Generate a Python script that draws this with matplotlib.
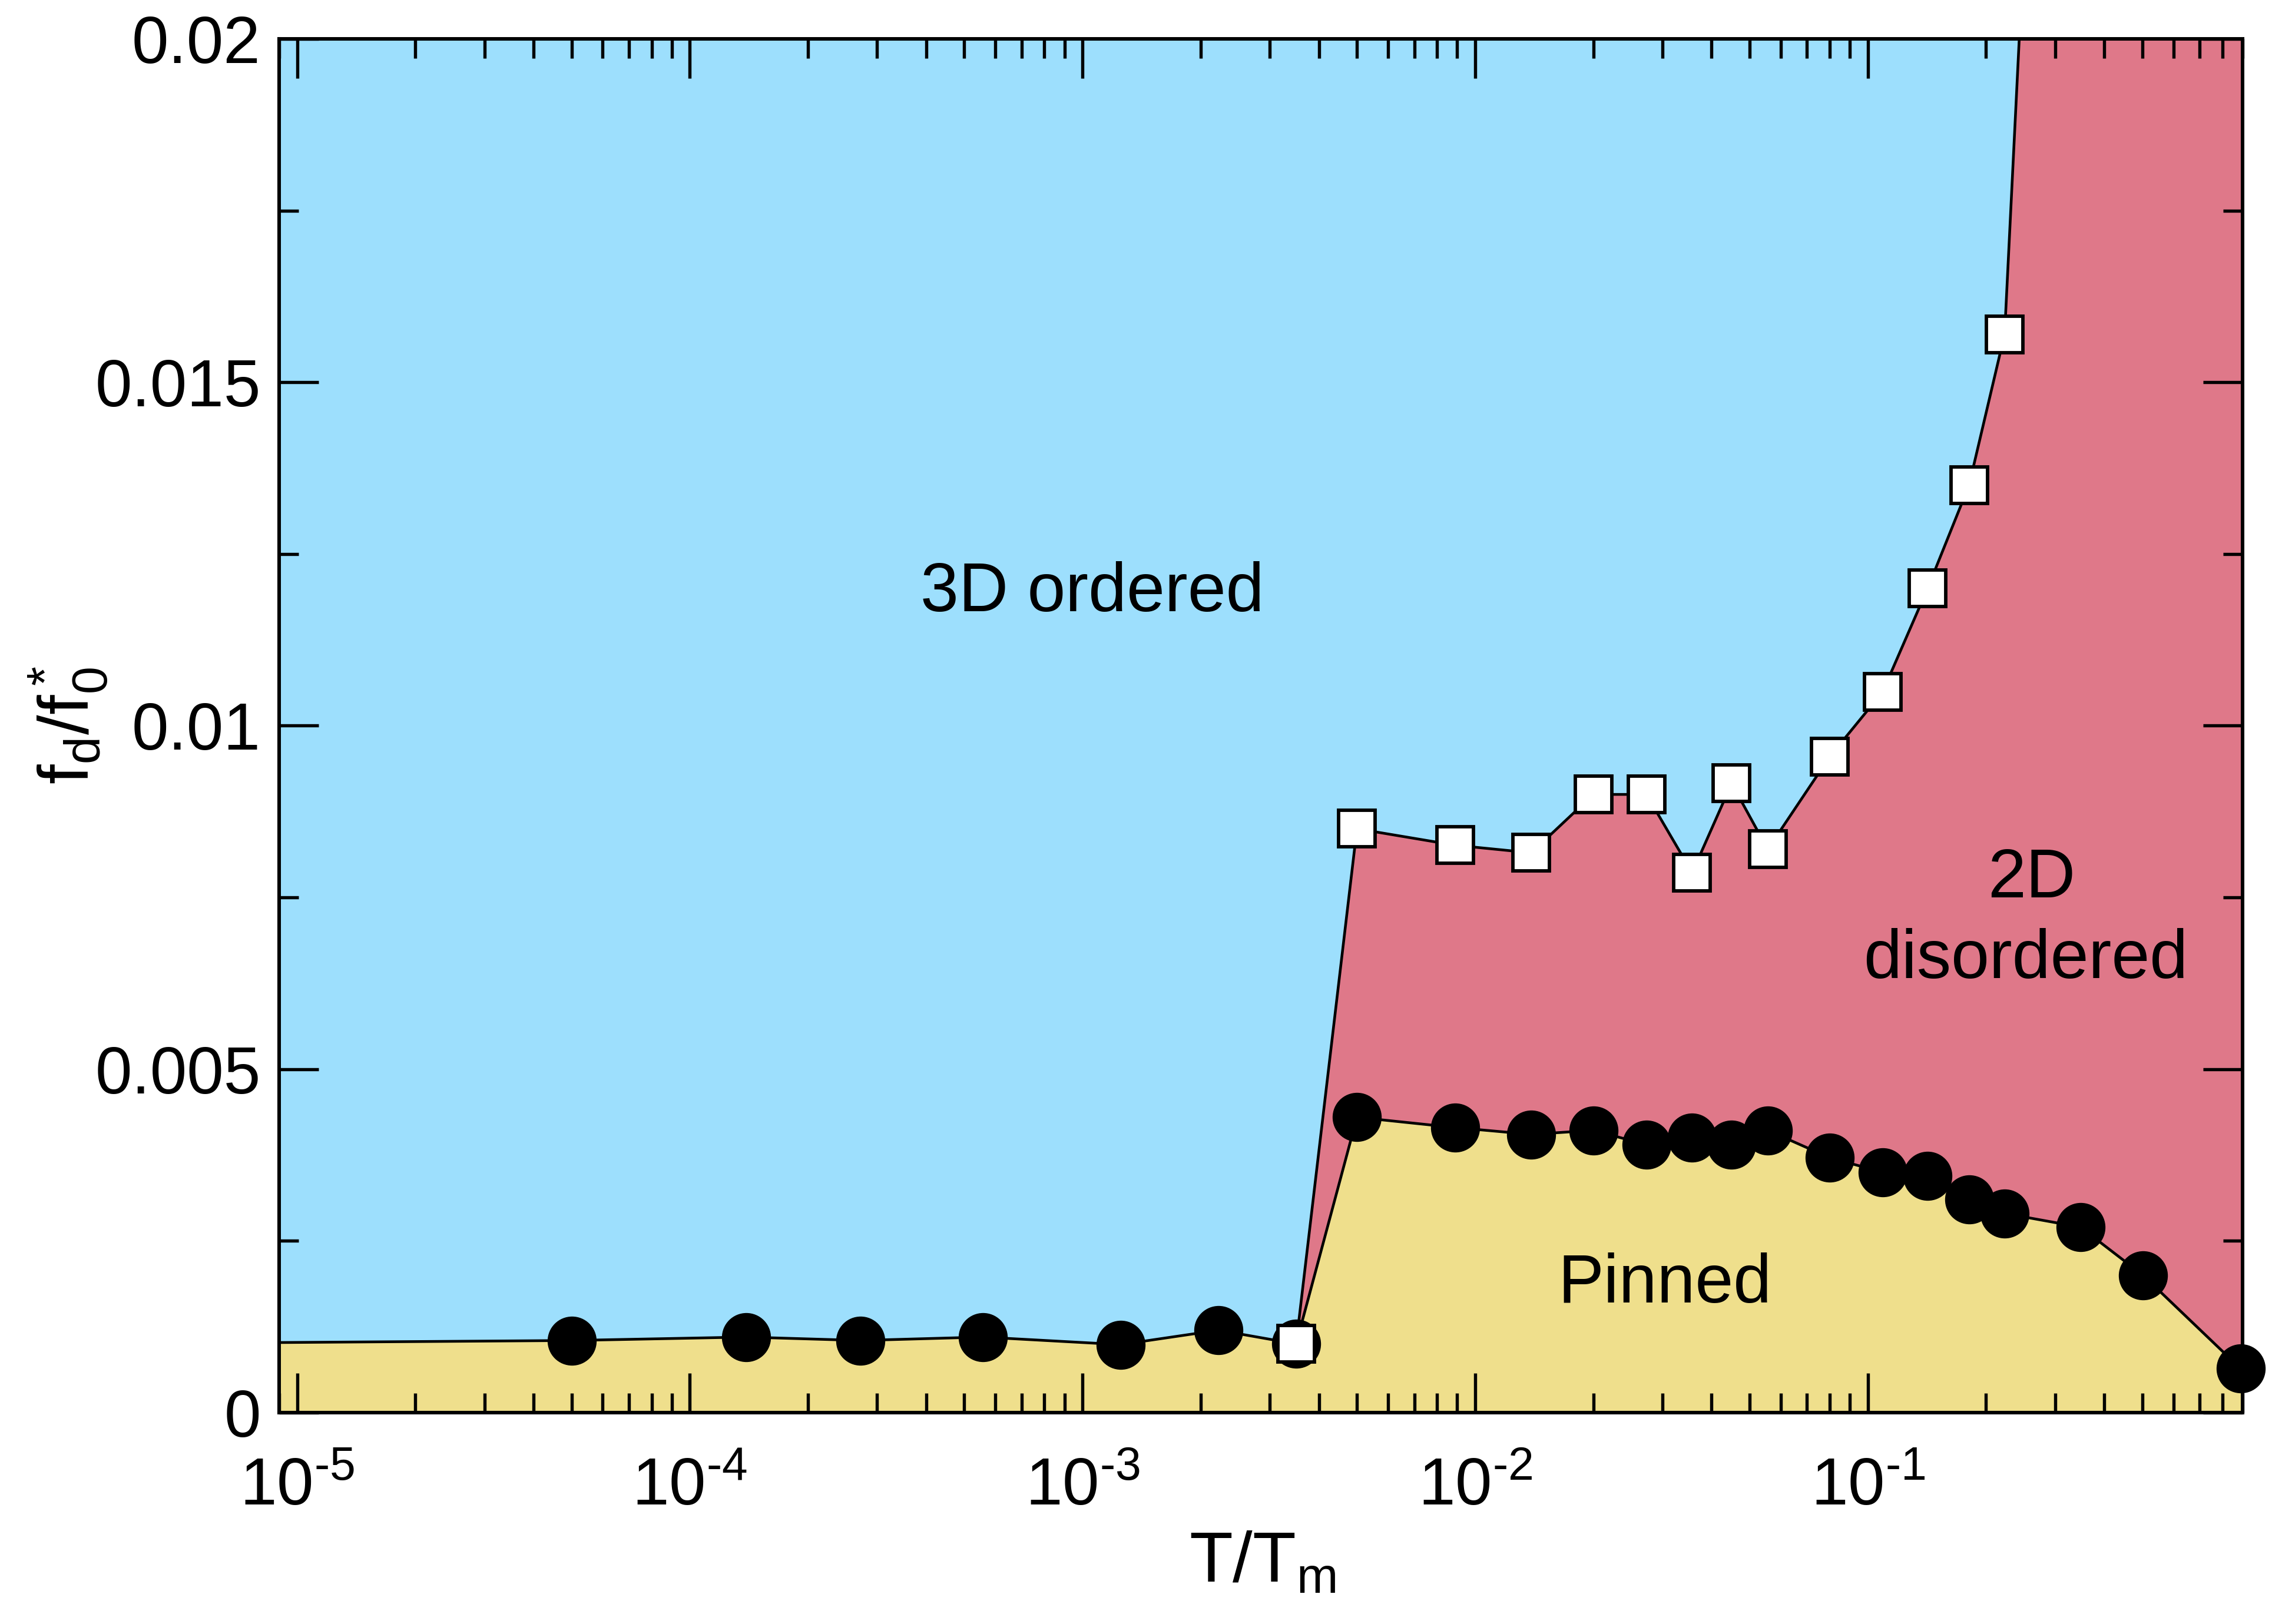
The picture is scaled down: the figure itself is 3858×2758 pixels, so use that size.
import matplotlib
matplotlib.use('Agg')
import matplotlib.pyplot as plt
from matplotlib.ticker import FixedLocator, FixedFormatter, LogLocator, NullFormatter, MultipleLocator
import numpy as np

plt.rcParams['font.family'] = ['Liberation Sans', 'DejaVu Sans']
plt.rcParams['mathtext.fontset'] = 'custom'
plt.rcParams['mathtext.rm'] = 'Liberation Sans'
plt.rcParams['mathtext.it'] = 'Liberation Sans:italic'
plt.rcParams['mathtext.default'] = 'regular'

# ---------------- data ----------------
pinned_T = [5e-6, 5.0e-5, 1.39e-4, 2.72e-4, 5.57e-4, 1.25e-3, 2.22e-3, 3.5e-3,
            5.0e-3, 8.9e-3, 0.0139, 0.0200, 0.0273, 0.0357, 0.0450, 0.0556,
            0.080, 0.109, 0.142, 0.181, 0.223, 0.348, 0.502, 0.89]
pinned_f = [0.00101, 0.00105, 0.00110, 0.00105, 0.00110, 0.00099, 0.00120, 0.00100,
            0.00430, 0.00415, 0.00405, 0.00411, 0.00390, 0.00400, 0.00390, 0.00411,
            0.00371, 0.00350, 0.00345, 0.00310, 0.00290, 0.00270, 0.00200, 0.00064]

order_T = [3.5e-3, 5.0e-3, 8.9e-3, 0.0139, 0.0200, 0.0273, 0.0357, 0.0450, 0.0556,
           0.080, 0.109, 0.142, 0.181, 0.223, 0.348]
order_f = [0.00100, 0.00850, 0.00826, 0.00815, 0.00900, 0.00900, 0.00786, 0.00916,
           0.00820, 0.00955, 0.01049, 0.01200, 0.01350, 0.01570, 0.03800]

x_ticks = [1e-5, 1e-4, 1e-3, 1e-2, 1e-1]
x_tick_labels = ['$\\mathregular{10^{\u20105}}$', '$\\mathregular{10^{\u20104}}$',
                 '$\\mathregular{10^{\u20103}}$', '$\\mathregular{10^{\u20102}}$',
                 '$\\mathregular{10^{\u20101}}$']
y_ticks = [0, 0.005, 0.01, 0.015, 0.02]
y_tick_labels = ['0', '0.005', '0.01', '0.015', '0.02']

region_labels = ['3D ordered', 'Pinned', '2D', 'disordered']

# ---------------- style ----------------
BLUE = '#9DDFFD'
RED = '#DF7889'
YEL = '#EFDF8C'
XLIM = (9e-6, 0.9)
YLIM = (0, 0.02)
W, H, DPI = 3858, 2758, 300

fig = plt.figure(figsize=(W / DPI, H / DPI), dpi=DPI)
ax = fig.add_axes([0.12286, 0.13017, 0.98704 - 0.12286, 0.97607 - 0.13017])
ax.set_xscale('log')
ax.set_xlim(*XLIM)
ax.set_ylim(*YLIM)
ax.set_facecolor(BLUE)

XFAR = XLIM[1] * 3
YFAR = YLIM[1] * 3
# 2D disordered region (right of the ordering line)
ax.fill(order_T + [XFAR, XFAR, order_T[0]], order_f + [YFAR, 0, 0],
        color=RED, lw=0, zorder=0.5)
# pinned region
ax.fill_between(pinned_T + [XFAR], 0, pinned_f + [pinned_f[-1]],
                color=YEL, lw=0, zorder=0.6)

# lines
ax.plot(pinned_T, pinned_f, '-', color='k', lw=1.1, zorder=3)
vis = [i for i, t in enumerate(pinned_T) if t >= XLIM[0]]
ax.plot([pinned_T[i] for i in vis], [pinned_f[i] for i in vis], 'o', ms=20,
        mfc='k', mec='k', mew=0, clip_on=False, zorder=4)

ax.plot(order_T, order_f, '-', color='k', lw=1.1, zorder=5)
vis2 = [i for i, f in enumerate(order_f) if f <= YLIM[1]]
ax.plot([order_T[i] for i in vis2], [order_f[i] for i in vis2], 's', ms=14.8,
        mfc='white', mec='k', mew=1.4, zorder=6)

# ticks
ax.xaxis.set_major_locator(FixedLocator(x_ticks))
ax.xaxis.set_major_formatter(FixedFormatter(x_tick_labels))
ax.xaxis.set_minor_locator(LogLocator(base=10, subs=np.arange(2, 10), numticks=100))
ax.xaxis.set_minor_formatter(NullFormatter())
ax.yaxis.set_major_locator(FixedLocator(y_ticks))
ax.yaxis.set_major_formatter(FixedFormatter(y_tick_labels))
ax.yaxis.set_minor_locator(MultipleLocator(0.0025))

ax.tick_params(which='both', direction='in', top=True, right=True, width=1.3,
               labelsize=27, color='k')
ax.tick_params(which='major', length=16)
ax.tick_params(which='minor', length=8)
ax.tick_params(axis='x', pad=18)
ax.tick_params(axis='y', pad=7.5)
for s in ax.spines.values():
    s.set_linewidth(1.45)
    s.set_zorder(7)

# region labels
ax.text(0.4142, 0.5834, region_labels[0], transform=ax.transAxes, ha='center',
        va='baseline', fontsize=28, zorder=8)
ax.text(0.7058, 0.0802, region_labels[1], transform=ax.transAxes, ha='center',
        va='baseline', fontsize=28, zorder=8)
ax.text(0.8926, 0.3751, region_labels[2], transform=ax.transAxes, ha='center',
        va='baseline', fontsize=28, zorder=8)
ax.text(0.8896, 0.3163, region_labels[3], transform=ax.transAxes, ha='center',
        va='baseline', fontsize=28, zorder=8)

# axis labels
fig.text(0.5557, 0.02574, r'$\mathregular{T/T_m}$', ha='center', va='baseline',
         fontsize=29)
fig.text(0.0391, 0.5533, r'$\mathregular{f_d/f_0^*}$', ha='center', va='baseline',
         rotation=90, rotation_mode='anchor', fontsize=29)

fig.savefig('out.png', dpi=DPI)
